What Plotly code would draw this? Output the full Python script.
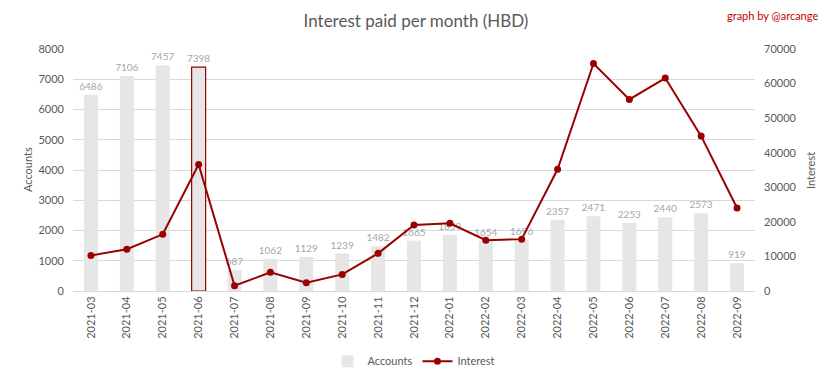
import plotly.graph_objects as go

months = ["2021-03", "2021-04", "2021-05", "2021-06", "2021-07", "2021-08", "2021-09",
          "2021-10", "2021-11", "2021-12", "2022-01", "2022-02", "2022-03", "2022-04",
          "2022-05", "2022-06", "2022-07", "2022-08", "2022-09"]
accounts = [6486, 7106, 7457, 7398, 687, 1062, 1129, 1239, 1482, 1665, 1859, 1654, 1696,
            2357, 2471, 2253, 2440, 2573, 919]
interest = [10300, 12100, 16400, 36600, 1500, 5400, 2400, 4800, 10900, 19100, 19600,
            14700, 15000, 35200, 65800, 55400, 61600, 44800, 24000]
highlight = "2021-06"

FONT = "Lato"
RED = "#990000"
GREY_TXT = "#595959"

line_colors = [RED if m == highlight else "rgba(0,0,0,0)" for m in months]
line_widths = [1.2 if m == highlight else 0 for m in months]

fig = go.Figure()
fig.add_trace(go.Bar(
    x=months, y=accounts, name="Accounts",
    marker=dict(color="#e6e6e6", line=dict(color=line_colors, width=line_widths)),
    width=0.39,
    text=[str(v) for v in accounts], textposition="outside",
    constraintext="none",
    textfont=dict(color="#a6a6a6", size=10, family=FONT),
    cliponaxis=False,
))
fig.add_trace(go.Scatter(
    x=months, y=interest, name="Interest", yaxis="y2",
    mode="lines+markers",
    line=dict(color=RED, width=2),
    marker=dict(color=RED, size=7),
))

fig.update_layout(
    width=832, height=379,
    margin=dict(l=73, r=77, t=49, b=88, autoexpand=False),
    paper_bgcolor="white", plot_bgcolor="white",
    font=dict(family=FONT, color=GREY_TXT, size=11),
    title=dict(text="Interest paid per month (HBD)", x=0.5, xanchor="center",
               y=0.945, yanchor="middle", yref="container",
               font=dict(size=17, color=GREY_TXT, family=FONT)),
    showlegend=True,
    legend=dict(orientation="h", x=0.5, xanchor="center", y=-0.23, yanchor="top",
                font=dict(size=11, color=GREY_TXT)),
    bargap=0.6,
    xaxis=dict(type="category", range=[-0.5, len(months) - 0.5], tickangle=-90,
               showgrid=False, automargin=False,
               showline=True, linecolor="#d9d9d9", ticks="",
               tickfont=dict(size=11, color=GREY_TXT)),
    yaxis=dict(range=[0, 8000], dtick=1000, showgrid=True, gridcolor="#d9d9d9",
               zeroline=False, ticks="", automargin=False, tickformat="d",
               ticklabelstandoff=8,
               tickfont=dict(size=11, color=GREY_TXT)),
    yaxis2=dict(range=[0, 70000], dtick=10000, overlaying="y", side="right",
                showgrid=False, zeroline=False, ticks="", automargin=False, tickformat="d",
                ticklabelstandoff=8,
                tickfont=dict(size=11, color=GREY_TXT)),
    annotations=[
        dict(text="graph by @arcange", xref="paper", yref="paper",
             x=1.095, y=1.14, xanchor="right", yanchor="middle", showarrow=False,
             font=dict(size=11, color="#c00000", family=FONT)),
        dict(text="Accounts", xref="paper", yref="paper", x=-0.0674, y=0.5,
             xanchor="center", yanchor="middle", textangle=-90, showarrow=False,
             font=dict(size=11, color=GREY_TXT, family=FONT)),
        dict(text="Interest", xref="paper", yref="paper", x=1.0806, y=0.5,
             xanchor="center", yanchor="middle", textangle=-90, showarrow=False,
             font=dict(size=11, color=GREY_TXT, family=FONT)),
    ],
)

fig.write_html("out.html", config={"displayModeBar": False},
               post_script="document.body.style.margin='0';document.body.style.overflow='hidden';")
